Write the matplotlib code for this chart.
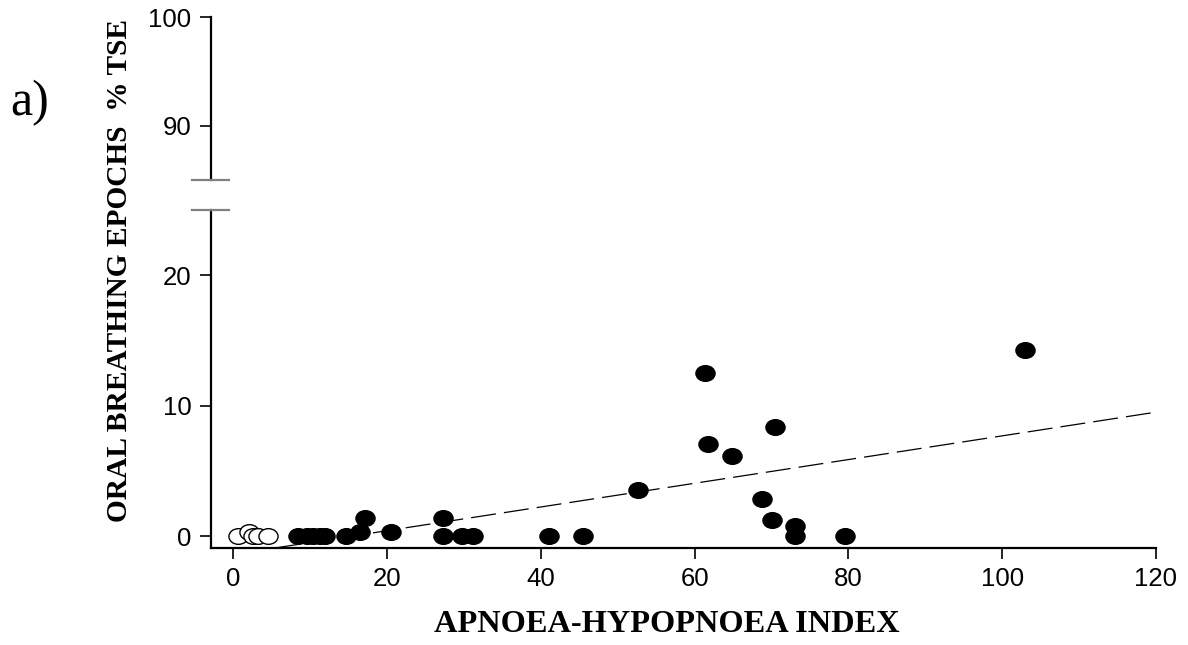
import matplotlib.pyplot as plt
from matplotlib.path import Path
from matplotlib.transforms import Affine2D
import numpy as np

# Data
open_x = [0.6, 2.0, 2.5, 3.2, 4.5]
open_y = [0.0, 0.33, 0.0, 0.0, 0.0]

filled_x = [8.4, 9.6, 10.4, 11.3, 11.9, 14.7, 16.5, 17.1, 20.5, 27.3, 27.3, 29.7, 31.2,
            41.0, 45.5, 52.6, 61.4, 61.7, 64.9, 68.7, 70.0, 70.5, 73.0, 73.0, 79.5, 102.9]
filled_y = [0.0, 0.0, 0.0, 0.0, 0.0, 0.0, 0.33, 1.35, 0.33, 1.35, 0.0, 0.0, 0.0,
            0.0, 0.0, 3.5, 12.5, 7.05, 6.1, 2.8, 1.2, 8.35, 0.77, 0.0, 0.0, 14.3]

fit_intercept = -1.41
fit_slope = 0.0909

x_ticks = [0, 20, 40, 60, 80, 100, 120]
low_ticks = [0, 10, 20]
high_ticks = [90, 100]

W, H = 1188, 645
fig = plt.figure(figsize=(W / 100, H / 100), dpi=100)

def box(l, t, r, b):
    return [l / W, 1 - b / H, (r - l) / W, (b - t) / H]

ax = fig.add_axes(box(211, 210, 1156, 548))
ax_top = fig.add_axes(box(211, 17, 1156, 180))

# slightly wide ellipse marker
ellipse = Path.unit_circle().transformed(Affine2D().scale(1.22, 1.0))

ax.scatter(filled_x, filled_y, marker=ellipse, s=190, c='black', zorder=3, clip_on=False)
ax.scatter(open_x, open_y, marker=ellipse, s=190, facecolors='white', edgecolors='black',
           linewidths=1.0, zorder=4, clip_on=False)

xl = np.array([(-0.92 - fit_intercept) / fit_slope, 120])
ax.plot(xl, fit_intercept + fit_slope * xl, color='black', lw=0.9, dashes=(20, 6.5))

ax.set_xlim(-2.9, 120)
ax.set_ylim(-0.92, 25)
ax.set_xticks(x_ticks)
ax.set_yticks(low_ticks)
ax_top.set_ylim(85, 100)
ax_top.set_xlim(-2.9, 120)
ax_top.set_yticks(high_ticks)
ax_top.set_xticks([])

for a in (ax, ax_top):
    a.spines['top'].set_visible(False)
    a.spines['right'].set_visible(False)
    a.spines['left'].set_linewidth(1.6)
    a.spines['bottom'].set_linewidth(1.6)
    a.tick_params(direction='out', length=8, width=1.2, labelsize=18.5, pad=6)
    for lab in a.get_xticklabels() + a.get_yticklabels():
        lab.set_family('Liberation Sans')
ax_top.spines['bottom'].set_visible(False)
ax.spines['bottom'].set_bounds(-2.9, 120)

# break marks
for yy in (180, 210):
    fig.add_artist(plt.Line2D([192 / W, 229 / W], [1 - yy / H, 1 - yy / H],
                              color='#808080', lw=1.6))

fig.text(667 / W, 1 - 624 / H, 'APNOEA-HYPOPNOEA INDEX', ha='center', va='center',
         family='Liberation Serif', fontweight='bold', fontsize=23.3)
fig.text(120 / W, 1 - 271 / H, 'ORAL BREATHING EPOCHS  % TSE', ha='center', va='center',
         rotation=90, family='Liberation Serif', fontweight='bold', fontsize=21.2)
fig.text(30 / W, 1 - 103 / H, 'a)', ha='center', va='center',
         family='Liberation Serif', fontsize=36)

fig.savefig('out.png', dpi=100)
